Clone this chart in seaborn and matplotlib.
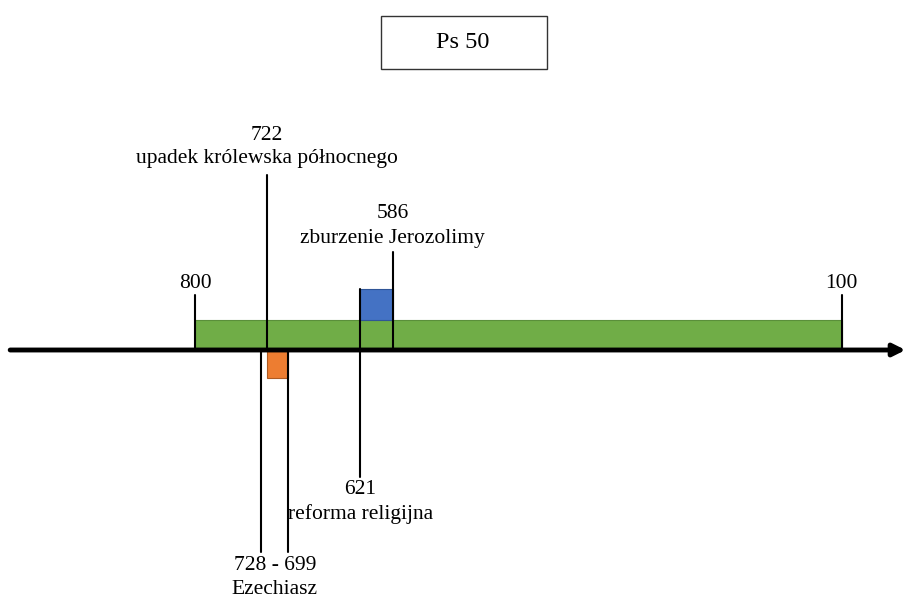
import seaborn as sns
from matplotlib import pyplot
from matplotlib.patches import Rectangle

sns.set_theme(style="white")
pyplot.rcParams['font.family'] = ['Liberation Serif', 'DejaVu Serif']
pyplot.rcParams['text.color'] = 'black'

# period covered (years BC)
span_start, span_end = 800, 100
# events above the line: year, label
north_year, north_label = 722, "upadek królewska północnego"
jerus_year, jerus_label = 586, "zburzenie Jerozolimy"
# reform of Josiah
reform_year, reform_label = 621, "reforma religijna"
# Hezekiah reign
hez_start, hez_end, hez_label = 728, 699, "Ezechiasz"
hez_box = (722, 699)
blue_box = (621, 586)

GREEN = "#70AD47"
BLUE = "#4472C4"
ORANGE = "#ED7D31"

AXIS_Y = 350
fs = 15.5


def main():
    fig = pyplot.figure(figsize=(9.06, 5.98), dpi=100)
    ax = fig.add_axes([0, 0, 1, 1])
    ax.set_xlim(1011, 30.5)
    ax.set_ylim(598, 0)
    ax.axis('off')

    # green period bar
    ax.add_patch(Rectangle((span_start, AXIS_Y - 30), span_end - span_start, 30,
                           facecolor=GREEN, edgecolor="#5a8f3a", lw=0.8, zorder=2))
    # blue box
    ax.add_patch(Rectangle((blue_box[0], AXIS_Y - 61), blue_box[1] - blue_box[0], 31,
                           facecolor=BLUE, edgecolor="#2f5597", lw=0.8, zorder=2))
    # orange box
    ax.add_patch(Rectangle((hez_box[0], AXIS_Y), hez_box[1] - hez_box[0], 28,
                           facecolor=ORANGE, edgecolor="#ae5a21", lw=0.8, zorder=2))

    # main time axis with arrow
    ax.annotate("", xy=(31, AXIS_Y), xytext=(1000, AXIS_Y),
                arrowprops=dict(arrowstyle="-|>", lw=3.5, color="black",
                                mutation_scale=18, shrinkA=0, shrinkB=0), zorder=5)

    lk = dict(color="black", lw=1.5, zorder=4)
    # end ticks
    for yr in (span_start, span_end):
        ax.plot([yr, yr], [295, AXIS_Y], **lk)
        ax.text(yr, 283, str(yr), ha='center', va='center', fontsize=fs)

    # 722
    ax.plot([north_year, north_year], [175, AXIS_Y], **lk)
    ax.text(north_year, 135, str(north_year), ha='center', va='center', fontsize=fs)
    ax.text(north_year, 159, north_label, ha='center', va='center', fontsize=fs)

    # 586
    ax.plot([jerus_year, jerus_year], [252, AXIS_Y], **lk)
    ax.text(jerus_year, 213, str(jerus_year), ha='center', va='center', fontsize=fs)
    ax.text(jerus_year, 238, jerus_label, ha='center', va='center', fontsize=fs)

    # 621
    ax.plot([reform_year, reform_year], [289, 477], **lk)
    ax.text(reform_year, 490, str(reform_year), ha='center', va='center', fontsize=fs)
    ax.text(reform_year, 514, reform_label, ha='center', va='center', fontsize=fs)

    # Ezechiasz
    for yr in (hez_start, hez_end):
        ax.plot([yr, yr], [AXIS_Y, 552], **lk)
    mid = (hez_start + hez_end) / 2
    ax.text(mid, 566, f"{hez_start} - {hez_end}", ha='center', va='center', fontsize=fs)
    ax.text(mid, 589, hez_label, ha='center', va='center', fontsize=fs)

    # title box
    ax.add_patch(Rectangle((381 / 906, 1 - 69 / 598), 166 / 906, 53 / 598,
                           transform=ax.transAxes, facecolor="white",
                           edgecolor="#333333", lw=1.0))
    ax.text(463 / 906, 1 - 42 / 598, "Ps 50", transform=ax.transAxes, ha='center',
            va='center', fontsize=17.5)
    fig.savefig('out.png', dpi=100)


if __name__ == '__main__':
    main()
